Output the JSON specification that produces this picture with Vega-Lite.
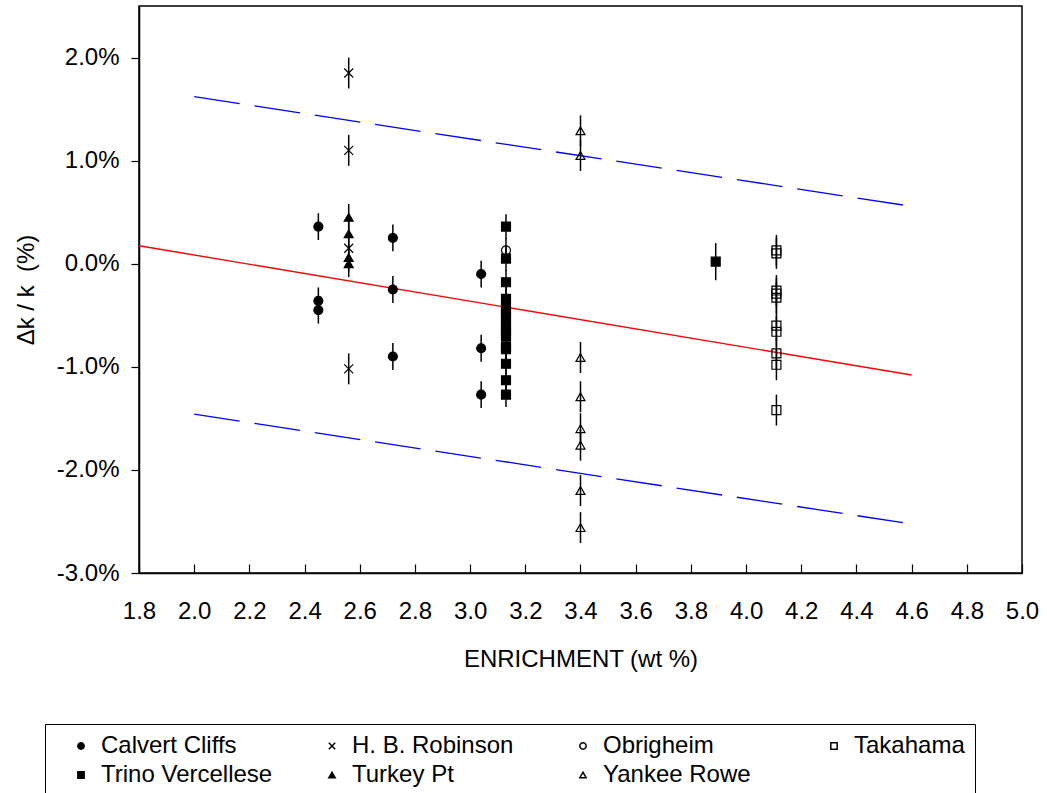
{
  "$schema": "https://vega.github.io/schema/vega-lite/v6.json",
  "width": 883,
  "height": 567,
  "autosize": "none",
  "padding": {"left": 139, "top": 6, "right": 25, "bottom": 220},
  "background": "white",
  "config": {
    "font": "Liberation Sans",
    "view": {"stroke": "black", "strokeWidth": 1.5},
    "axis": {
      "grid": false,
      "domainColor": "black",
      "domainWidth": 1.5,
      "tickColor": "black",
      "tickWidth": 1.2,
      "labelColor": "black",
      "titleColor": "black",
      "labelFont": "Liberation Sans",
      "titleFont": "Liberation Sans",
      "labelFontSize": 24,
      "titleFontSize": 24,
      "titleFontWeight": "normal",
      "labelFlush": false,
      "labelOverlap": false
    },
    "legend": {
      "orient": "none",
      "legendX": -94,
      "legendY": 718,
      "direction": "horizontal",
      "columns": 4,
      "gridAlign": "all",
      "columnPadding": 33,
      "rowPadding": 5,
      "labelFont": "Liberation Sans",
      "labelFontSize": 24,
      "labelColor": "black",
      "labelLimit": 300,
      "labelOffset": 8,
      "symbolSize": 40,
      "symbolOffset": 14,
      "strokeColor": "black",
      "padding": 10,
      "fillColor": "white"
    }
  },
  "encoding": {
    "x": {
      "field": "x",
      "type": "quantitative",
      "scale": {"domain": [1.8, 5.0], "nice": false, "zero": false},
      "axis": {
        "title": "ENRICHMENT (wt %)",
        "values": [1.8, 2.0, 2.2, 2.4, 2.6, 2.8, 3.0, 3.2, 3.4, 3.6, 3.8, 4.0, 4.2, 4.4, 4.6, 4.8, 5.0],
        "format": ".1f",
        "tickSize": -9,
        "labelPadding": 35,
        "titlePadding": 24
      }
    },
    "y": {
      "field": "y",
      "type": "quantitative",
      "scale": {"domain": [-3, 2.5], "nice": false, "zero": false},
      "axis": {
        "title": "Δk / k \u00a0(%)",
        "values": [-3, -2, -1, 0, 1, 2],
        "labelExpr": "(datum.value < 0 ? '-' : '') + format(abs(datum.value), '.1f') + '%'",
        "tickSize": 8,
        "labelPadding": 12,
        "titlePadding": 18
      }
    }
  },
  "layer": [
    {
      "data": {"values": [
        {"x": 1.8, "y": 0.174},
        {"x": 4.6, "y": -1.08}
      ]},
      "mark": {"type": "line", "color": "#FF0000", "strokeWidth": 1.4}
    },
    {
      "data": {"values": [
        {"band": "upper", "x": 2.0, "y": 1.62},
        {"band": "upper", "x": 4.6, "y": 0.557},
        {"band": "lower", "x": 2.0, "y": -1.459},
        {"band": "lower", "x": 4.6, "y": -2.525}
      ]},
      "mark": {"type": "line", "color": "#0000FF", "strokeWidth": 1.3, "strokeDash": [46, 15]},
      "encoding": {"detail": {"field": "band"}}
    },
    {
      "data": {"values": [
        {"series": "Calvert Cliffs", "x": 2.45, "y": 0.36, "err": 0.13},
        {"series": "Calvert Cliffs", "x": 2.45, "y": -0.36, "err": 0.13},
        {"series": "Calvert Cliffs", "x": 2.45, "y": -0.45, "err": 0.13},
        {"series": "Calvert Cliffs", "x": 2.72, "y": 0.25, "err": 0.13},
        {"series": "Calvert Cliffs", "x": 2.72, "y": -0.25, "err": 0.13},
        {"series": "Calvert Cliffs", "x": 2.72, "y": -0.90, "err": 0.13},
        {"series": "Calvert Cliffs", "x": 3.04, "y": -0.10, "err": 0.13},
        {"series": "Calvert Cliffs", "x": 3.04, "y": -0.82, "err": 0.13},
        {"series": "Calvert Cliffs", "x": 3.04, "y": -1.27, "err": 0.13},
        {"series": "H. B. Robinson", "x": 2.56, "y": 1.85, "err": 0.15},
        {"series": "H. B. Robinson", "x": 2.56, "y": 1.10, "err": 0.15},
        {"series": "H. B. Robinson", "x": 2.56, "y": 0.15, "err": 0.15},
        {"series": "H. B. Robinson", "x": 2.56, "y": -1.02, "err": 0.15},
        {"series": "Obrigheim", "x": 3.13, "y": 0.13, "err": 0.12},
        {"series": "Takahama", "x": 4.11, "y": 0.13, "err": 0.15},
        {"series": "Takahama", "x": 4.11, "y": 0.10, "err": 0.15},
        {"series": "Takahama", "x": 4.11, "y": -0.26, "err": 0.15},
        {"series": "Takahama", "x": 4.11, "y": -0.29, "err": 0.15},
        {"series": "Takahama", "x": 4.11, "y": -0.33, "err": 0.15},
        {"series": "Takahama", "x": 4.11, "y": -0.60, "err": 0.15},
        {"series": "Takahama", "x": 4.11, "y": -0.66, "err": 0.15},
        {"series": "Takahama", "x": 4.11, "y": -0.87, "err": 0.15},
        {"series": "Takahama", "x": 4.11, "y": -0.98, "err": 0.15},
        {"series": "Takahama", "x": 4.11, "y": -1.42, "err": 0.15},
        {"series": "Trino Vercellese", "x": 3.13, "y": 0.36, "err": 0.12},
        {"series": "Trino Vercellese", "x": 3.13, "y": 0.05, "err": 0.12},
        {"series": "Trino Vercellese", "x": 3.13, "y": -0.18, "err": 0.12},
        {"series": "Trino Vercellese", "x": 3.13, "y": -0.34, "err": 0.12},
        {"series": "Trino Vercellese", "x": 3.13, "y": -0.43, "err": 0.12},
        {"series": "Trino Vercellese", "x": 3.13, "y": -0.48, "err": 0.12},
        {"series": "Trino Vercellese", "x": 3.13, "y": -0.53, "err": 0.12},
        {"series": "Trino Vercellese", "x": 3.13, "y": -0.60, "err": 0.12},
        {"series": "Trino Vercellese", "x": 3.13, "y": -0.65, "err": 0.12},
        {"series": "Trino Vercellese", "x": 3.13, "y": -0.70, "err": 0.12},
        {"series": "Trino Vercellese", "x": 3.13, "y": -0.80, "err": 0.12},
        {"series": "Trino Vercellese", "x": 3.13, "y": -0.83, "err": 0.12},
        {"series": "Trino Vercellese", "x": 3.13, "y": -0.97, "err": 0.12},
        {"series": "Trino Vercellese", "x": 3.13, "y": -1.13, "err": 0.12},
        {"series": "Trino Vercellese", "x": 3.13, "y": -1.27, "err": 0.12},
        {"series": "Trino Vercellese", "x": 3.89, "y": 0.02, "err": 0.18},
        {"series": "Turkey Pt", "x": 2.56, "y": 0.45, "err": 0.13},
        {"series": "Turkey Pt", "x": 2.56, "y": 0.29, "err": 0.13},
        {"series": "Turkey Pt", "x": 2.56, "y": 0.06, "err": 0.13},
        {"series": "Turkey Pt", "x": 2.56, "y": 0.00, "err": 0.13},
        {"series": "Yankee Rowe", "x": 3.40, "y": 1.29, "err": 0.15},
        {"series": "Yankee Rowe", "x": 3.40, "y": 1.05, "err": 0.15},
        {"series": "Yankee Rowe", "x": 3.40, "y": -0.91, "err": 0.15},
        {"series": "Yankee Rowe", "x": 3.40, "y": -1.29, "err": 0.15},
        {"series": "Yankee Rowe", "x": 3.40, "y": -1.60, "err": 0.15},
        {"series": "Yankee Rowe", "x": 3.40, "y": -1.76, "err": 0.15},
        {"series": "Yankee Rowe", "x": 3.40, "y": -2.20, "err": 0.15},
        {"series": "Yankee Rowe", "x": 3.40, "y": -2.56, "err": 0.15}
      ]},
      "layer": [
        {
          "mark": {"type": "errorbar", "color": "black", "thickness": 1.5},
          "encoding": {"yError": {"field": "err"}}
        },
        {
          "mark": {"type": "point", "size": 80, "stroke": "black", "strokeWidth": 1.2, "opacity": 1},
          "encoding": {
            "shape": {
              "field": "series",
              "type": "nominal",
              "title": null,
              "scale": {
                "domain": ["Calvert Cliffs", "H. B. Robinson", "Obrigheim", "Takahama", "Trino Vercellese", "Turkey Pt", "Yankee Rowe"],
                "range": ["circle", "M-1,-1L1,1M-1,1L1,-1", "circle", "square", "square", "triangle-up", "triangle-up"]
              },
              "legend": {
                "encode": {"symbols": {"update": {"stroke": {"value": "black"}, "strokeWidth": {"value": 1}}}}
              }
            },
            "fill": {
              "field": "series",
              "type": "nominal",
              "title": null,
              "scale": {
                "domain": ["Calvert Cliffs", "H. B. Robinson", "Obrigheim", "Takahama", "Trino Vercellese", "Turkey Pt", "Yankee Rowe"],
                "range": ["black", "transparent", "transparent", "transparent", "black", "black", "transparent"]
              },
              "legend": {
                "encode": {"symbols": {"update": {"stroke": {"value": "black"}, "strokeWidth": {"value": 1}}}}
              }
            }
          }
        }
      ]
    }
  ]
}
